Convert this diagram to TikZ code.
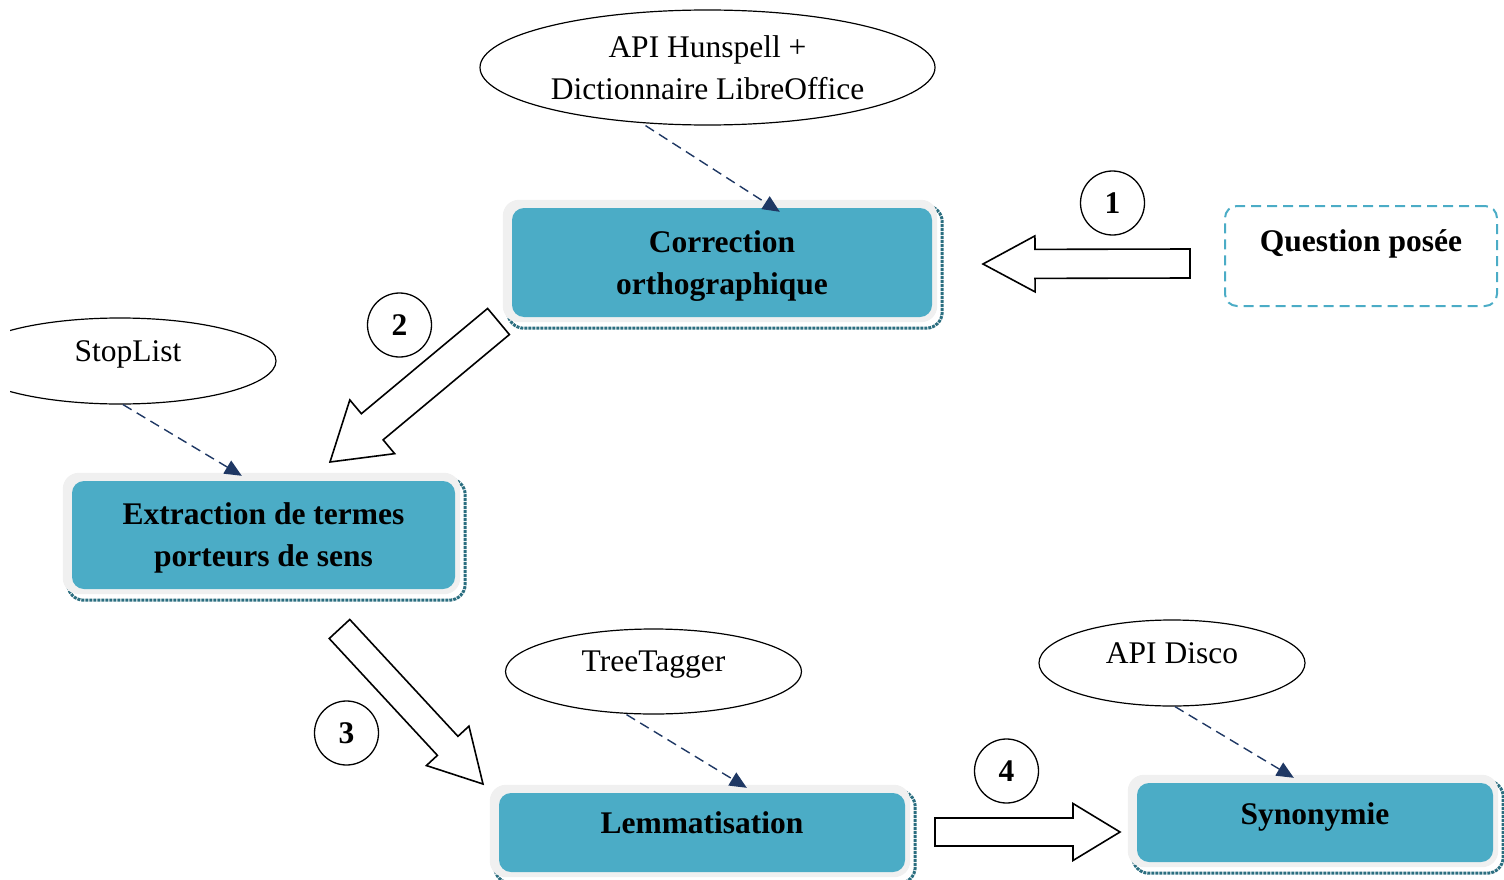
\documentclass[tikz,border=0pt]{standalone}
\usepackage{fontspec}
\setmainfont{Liberation Serif}
\usetikzlibrary{calc,arrows.meta,shapes.geometric,backgrounds}

\definecolor{boxteal}{HTML}{4BACC6}
\definecolor{rimgrey}{HTML}{F0F0F0}
\definecolor{shadowteal}{HTML}{2B6E80}
\definecolor{linknavy}{HTML}{1F3864}

\tikzset{
  stepbox/.style={rectangle, rounded corners=12pt, fill=boxteal, inner sep=0pt,
    align=center, font=\fontsize{31.5}{42}\selectfont\bfseries},
  boxrim/.style={fill=rimgrey, rounded corners=16pt},
  boxshadow/.style={draw=shadowteal, line width=3pt, densely dotted, rounded corners=16pt},
  resource/.style={ellipse, draw, line width=1.2pt, inner sep=0pt, align=center},
  uses/.style={draw=linknavy, line width=1.4pt, dash pattern=on 10pt off 6pt,
    -{Triangle[length=17pt,width=15pt]}},
  stepnum/.style={circle, draw, line width=1.3pt, minimum size=64pt, inner sep=0pt,
    font=\fontsize{31.5}{42}\selectfont\bfseries},
  fatarrow/.style={draw, line width=1.6pt, fill=white, line join=miter},
  qbox/.style={rectangle, draw=boxteal, line width=2pt, dash pattern=on 10pt off 6pt,
    rounded corners=12pt, inner sep=0pt}
}

% two centred lines, shifted down a little without changing the box size
\newcommand\twolines[3]{\raisebox{#1}[\height][\depth]{\begin{tabular}{@{}c@{}}#2\\#3\end{tabular}}}

% grey rim and dotted shadow behind a step box
\newcommand\framestep[1]{%
  \begin{pgfonlayer}{background}
    \draw[boxshadow] ([shift={(-4,-2)}]#1.north west) rectangle ([shift={(10,11)}]#1.south east);
    \fill[boxrim] ([shift={(-9,-8)}]#1.north west) rectangle ([shift={(5,5)}]#1.south east);
  \end{pgfonlayer}}

% block arrow: tail, tip, shaft half-width, head half-width, head length
\newcommand\blockarrow[5]{%
  \path coordinate (ba-t) at (#1) coordinate (ba-p) at (#2)
        coordinate (ba-h) at ($(#2)!#5!(#1)$);
  \draw[fatarrow] ($(ba-t)!#3!90:(ba-p)$) -- ($(ba-h)!#3!-90:(ba-t)$)
    -- ($(ba-h)!#4!-90:(ba-t)$) -- (ba-p) -- ($(ba-h)!#4!90:(ba-t)$)
    -- ($(ba-h)!#3!90:(ba-t)$) -- ($(ba-t)!#3!-90:(ba-p)$) -- cycle;}

\begin{document}
\begin{tikzpicture}[x=1pt, y=-1pt, font=\fontsize{31.5}{42}\selectfont]
\useasboundingbox (0,0) rectangle (1504,880);

% processing steps
\node[stepbox, minimum width=420pt, minimum height=109pt] (corr) at (722,262.5)
  {\twolines{-3pt}{Correction}{orthographique}};
\node[stepbox, minimum width=383pt, minimum height=108pt] (extr) at (263.5,535)
  {\twolines{-2.5pt}{Extraction de termes}{porteurs de sens}};
\node[stepbox, minimum width=406pt, minimum height=79pt] (lemm) at (702,832.5)
  {\raisebox{20pt}{Lemmatisation}};
\node[stepbox, minimum width=356pt, minimum height=79pt] (syn) at (1315,822.5)
  {\raisebox{18pt}{Synonymie}};
\framestep{corr}
\framestep{extr}
\framestep{lemm}
\framestep{syn}

% input question
\node[qbox, minimum width=272pt, minimum height=100pt] (q) at (1361,256) {};
\node[font=\fontsize{31.5}{42}\selectfont\bfseries] (qtext) at (1361,244) {Question posée};

% external resources
\node[resource, minimum width=455pt, minimum height=115pt] (hun) at (707.5,67.5)
  {API Hunspell +\\Dictionnaire LibreOffice};
\begin{scope}
  \clip (10,0) rectangle (1504,880);
  \node[resource, minimum width=312pt, minimum height=86pt] (stop) at (120,361)
    {\raisebox{19pt}{\hspace*{16pt}StopList}};
\end{scope}
\node[resource, minimum width=296pt, minimum height=85pt] (tree) at (653.5,671.5)
  {\raisebox{20pt}{TreeTagger}};
\node[resource, minimum width=266pt, minimum height=86pt] (disco) at (1172,663)
  {\raisebox{19pt}{API Disco}};

% resource links
\draw[uses] ([xshift=-62pt]hun.south) -- ([shift={(268,4)}]corr.north west);
\draw[uses] ([xshift=3pt]stop.south) -- ([shift={(170,-5)}]extr.north west);
\draw[uses] ([xshift=-27pt]tree.south) -- ([shift={(248,-5)}]lemm.north west);
\draw[uses] ([xshift=3pt]disco.south) -- ([shift={(157,-5)}]syn.north west);

% step numbers
\node[stepnum] (n1) at (1112.5,203) {1};
\node[stepnum] (n2) at (399.5,325) {2};
\node[stepnum] (n3) at (346.5,733) {3};
\node[stepnum] (n4) at (1006.5,771) {4};

% flow arrows
\coordinate (a1t) at (1190,263.5); \coordinate (a1p) at (983,264);
\coordinate (a2t) at (498.5,321.5); \coordinate (a2p) at (330,462);
\coordinate (a3t) at (339.5,629); \coordinate (a3p) at (483,784);
\coordinate (a4t) at (935,832); \coordinate (a4p) at (1120,832);
\blockarrow{a1t}{a1p}{14.5pt}{28pt}{52pt}
\blockarrow{a2t}{a2p}{17pt}{35pt}{55pt}
\blockarrow{a3t}{a3p}{14pt}{29pt}{52pt}
\blockarrow{a4t}{a4p}{14pt}{28.5pt}{47pt}
\end{tikzpicture}
\end{document}
